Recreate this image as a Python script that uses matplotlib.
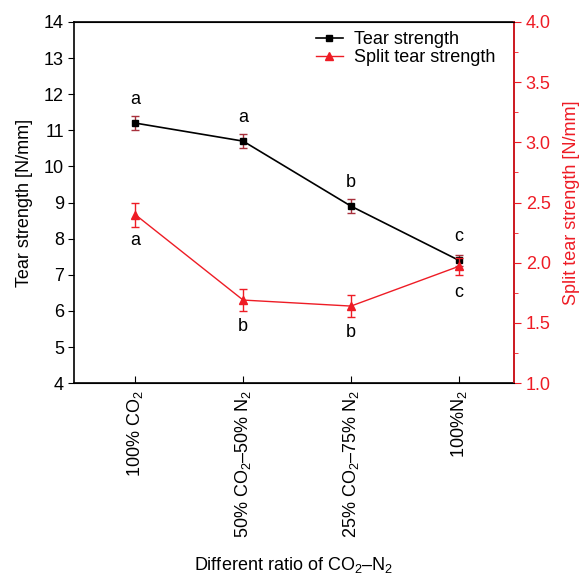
import matplotlib
matplotlib.use("Agg")
import matplotlib.pyplot as plt
from matplotlib.ticker import MultipleLocator, FormatStrFormatter
from matplotlib.lines import Line2D

plt.rcParams['font.family'] = ['Liberation Sans', 'DejaVu Sans']
plt.rcParams['mathtext.fontset'] = 'custom'
plt.rcParams['mathtext.rm'] = 'Liberation Sans'
plt.rcParams['mathtext.it'] = 'Liberation Sans'

categories = ['100% CO$_2$', '50% CO$_2$\u201350% N$_2$', '25% CO$_2$\u201375% N$_2$', '100%N$_2$']
tear = [11.2, 10.7, 8.9, 7.4]
tear_err = [0.2, 0.2, 0.2, 0.15]
tear_letters = ['a', 'a', 'b', 'c']
split = [2.40, 1.69, 1.64, 1.97]
split_err = [0.1, 0.09, 0.09, 0.07]
split_letters = ['a', 'b', 'b', 'c']

red = '#ee1c25'
fs = 13
x = list(range(len(categories)))

fig, ax = plt.subplots(figsize=(5.8, 5.77), dpi=100)
fig.subplots_adjust(left=0.128, right=0.886, top=0.962, bottom=0.336)

ax.errorbar(x, tear, yerr=tear_err, color='black', marker='s', markersize=5,
            lw=1.2, ecolor='#a8303c', elinewidth=1, capsize=3)
ax.set_ylim(4, 14)
ax.set_xlim(-0.565, 3.51)
ax.yaxis.set_major_locator(MultipleLocator(1))
ax.set_ylabel('Tear strength [N/mm]', fontsize=fs, labelpad=8)
ax.set_xlabel('Different ratio of CO$_2$\u2013N$_2$', fontsize=fs, labelpad=12)
ax.set_xticks(x)
ax.set_xticklabels(categories, rotation=90, fontsize=fs)
ax.tick_params(axis='x', direction='in', length=5, pad=5)
ax.tick_params(axis='y', direction='out', length=4, labelsize=fs)
for sp in ax.spines.values():
    sp.set_linewidth(1.2)

# significance letters: black above its points, red below
for xi, v, s in zip(x, tear, tear_letters):
    ax.annotate(s, (xi, v), xytext=(0, 17), textcoords='offset points',
                ha='center', va='center', fontsize=fs)

ax2 = ax.twinx()
ax2.errorbar(x, split, yerr=split_err, color=red, marker='^', markersize=6,
             lw=1, ecolor=red, elinewidth=1, capsize=3)
ax2.set_ylim(1.0, 4.0)
ax2.yaxis.set_major_locator(MultipleLocator(0.5))
ax2.yaxis.set_minor_locator(MultipleLocator(0.25))
ax2.yaxis.set_major_formatter(FormatStrFormatter('%.1f'))
ax2.set_ylabel('Split tear strength [N/mm]', color=red, fontsize=fs, labelpad=9)
ax2.tick_params(axis='y', which='both', colors=red, direction='out', labelsize=fs)
ax2.tick_params(axis='y', which='major', length=5)
ax2.tick_params(axis='y', which='minor', length=3)
ax2.spines['right'].set_color(red)
ax2.spines['right'].set_linewidth(1.2)
ax2.spines['left'].set_visible(False)

for xi, v, s in zip(x, split, split_letters):
    ax2.annotate(s, (xi, v), xytext=(0, -19), textcoords='offset points',
                 ha='center', va='center', fontsize=fs)

handles = [Line2D([], [], color='black', marker='s', markersize=5, lw=1.2),
           Line2D([], [], color=red, marker='^', markersize=6, lw=1)]
ax2.legend(handles, ['Tear strength', 'Split tear strength'], loc='upper right',
           bbox_to_anchor=(0.978, 1.0), frameon=False, fontsize=fs, handlelength=1.5,
           handletextpad=0.6, borderaxespad=0.1, labelspacing=0.05)

fig.savefig('out.png', dpi=100)
